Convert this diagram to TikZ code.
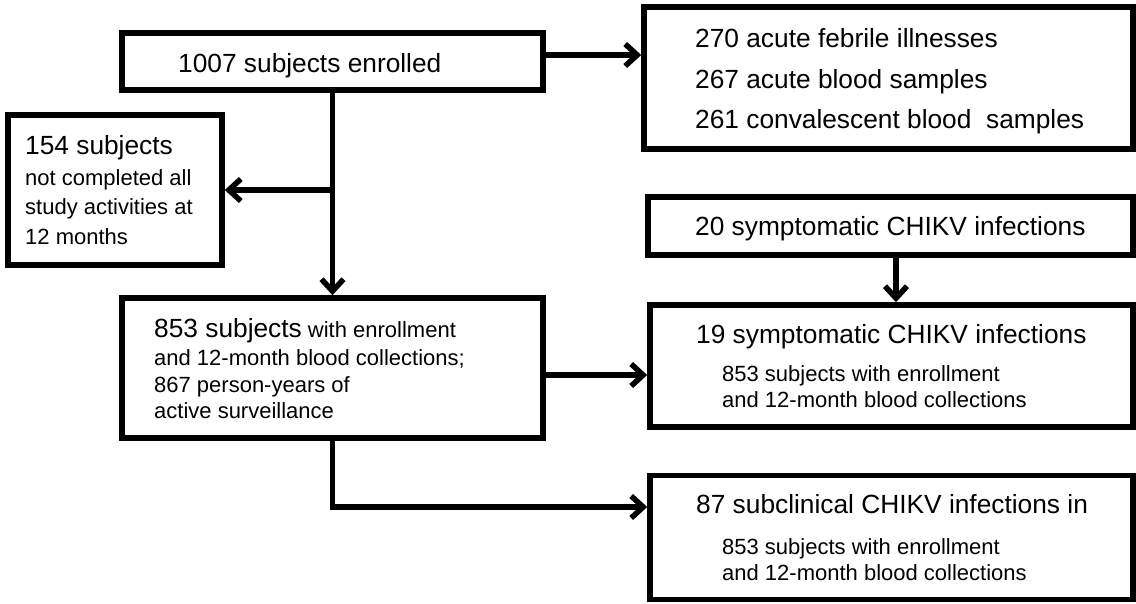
\documentclass[tikz,border=0pt]{standalone}
\usepackage{fontspec}
\setmainfont{Liberation Sans}
\usetikzlibrary{arrows.meta}
\tikzset{
  box/.style={draw=black, line width=5.5pt, inner sep=0pt, rectangle, fill=white},
  big/.style={font=\fontsize{26.3}{30}\selectfont, anchor=base west, inner sep=0pt},
  small/.style={font=\fontsize{22}{27}\selectfont, anchor=base west, inner sep=0pt},
  arr/.style={line width=5.5pt, -{Straight Barb[length=12pt,width=22pt]}}
}
\begin{document}
\begin{tikzpicture}[x=1pt,y=-1pt]
\useasboundingbox (0,0) rectangle (1136,603);
% boxes
\node[box, minimum width=421pt, minimum height=57pt]  (A) at (332.5,61.5) {};
\node[box, minimum width=214pt, minimum height=150pt] (B) at (115,190) {};
\node[box, minimum width=421pt, minimum height=140pt] (C) at (332.5,368) {};
\node[box, minimum width=489pt, minimum height=142pt] (D) at (888.5,78) {};
\node[box, minimum width=485pt, minimum height=58pt]  (E) at (890.5,226) {};
\node[box, minimum width=483pt, minimum height=122pt] (F) at (891.5,366) {};
\node[box, minimum width=483pt, minimum height=124pt] (G) at (891.5,537.5) {};
% texts
\node[big] (tA) at (178,72) {1007 subjects enrolled};
\node[big]   (tB1) at (25,154) {154 subjects};
\node[small] (tB2) at (25,185) {not completed all};
\node[small] (tB3) at (25,214) {study activities at};
\node[small] (tB4) at (25,244) {12 months};
\node[big] (tC1) at (154,337) {853 subjects\fontsize{22}{27}\selectfont{} with enrollment};
\node[small] (tC2) at (154,365) {and 12-month blood collections;};
\node[small] (tC3) at (154,392) {867 person-years of};
\node[small] (tC4) at (154,418) {active surveillance};
\node[big] (tD1) at (695,47) {270 acute febrile illnesses};
\node[big] (tD2) at (695,88) {267 acute blood samples};
\node[big] (tD3) at (695,128) {261 convalescent blood\ \ samples};
\node[big] (tE) at (695,235) {20 symptomatic CHIKV infections};
\node[big]   (tF1) at (696,343) {19 symptomatic CHIKV infections};
\node[small] (tF2) at (722,381) {853 subjects with enrollment};
\node[small] (tF3) at (722,407) {and 12-month blood collections};
\node[big]   (tG1) at (696,513) {87 subclinical CHIKV infections in};
\node[small] (tG2) at (722,554) {853 subjects with enrollment};
\node[small] (tG3) at (722,580) {and 12-month blood collections};
% connectors
\coordinate (split) at (A.south |- B.east);
\draw[arr] ([yshift=6.5pt]A.east) -- ([yshift=6.5pt]A.east -| D.west);
\draw[arr] (A.south) -- (C.north);
\draw[arr] (split) -- (B.east);
\draw[arr] ([yshift=-7pt]C.east) -- ([yshift=-7pt]C.east -| F.west);
\draw[arr] (C.south) |- ([yshift=30.5pt]G.west);
\draw[arr] ([xshift=5.5pt]E.south) -- ([xshift=5.5pt]E.south |- F.north);
\end{tikzpicture}
\end{document}
